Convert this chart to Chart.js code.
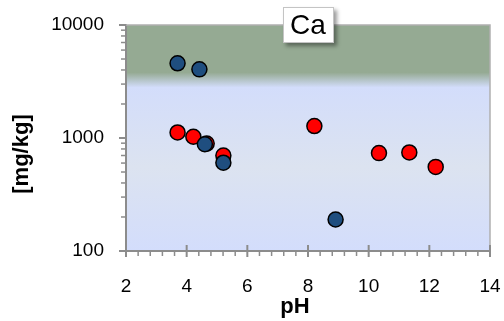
<!DOCTYPE html>
<html>
<head>
<meta charset="utf-8">
<script src="https://cdn.jsdelivr.net/npm/chart.js@4.4.1/dist/chart.umd.min.js"></script>
<style>
html,body{margin:0;padding:0;background:#fff;}
#wrap{width:504px;height:321px;position:relative;}
</style>
</head>
<body>
<div id="wrap"><canvas id="c" width="504" height="321"></canvas></div>
<script>
// ---- data ----
const chartTitle = "Ca";
const xTitle = "pH";
const yTitle = "[mg/kg]";
const xTicks = [2, 4, 6, 8, 10, 12, 14];
const yTicks = [100, 1000, 10000];
const blueX = [3.70, 4.42, 4.60, 5.21, 8.91];
const blueY = [4580, 4050, 880, 605, 190];
const redX = [3.70, 4.22, 4.66, 5.21, 8.21, 10.34, 11.34, 12.21];
const redY = [1120, 1025, 893, 700, 1275, 735, 745, 555];
const bandTop = 3800;   // green zone fully above this value
const bandBottom = 2800; // fades to blue by this value

const FONT = "'Liberation Sans', Arial, sans-serif";
const AXIS = '#8c8c8c';

function pts(xs, ys){ return xs.map((x,i)=>({x:x, y:ys[i]})); }

const bgPlugin = {
  id: 'bg',
  beforeDraw(chart){
    const {ctx, chartArea:a, scales:{y}} = chart;
    const h = a.bottom - a.top;
    const f = v => Math.min(1, Math.max(0, (y.getPixelForValue(v) - a.top) / h));
    const g = ctx.createLinearGradient(0, a.top, 0, a.bottom);
    g.addColorStop(0, '#95aa93');
    g.addColorStop(f(bandTop), '#95aa93');
    g.addColorStop(f(bandBottom), '#d3ddfb');
    g.addColorStop(0.63, '#dce3f0');
    g.addColorStop(1, '#d3ddfc');
    ctx.save();
    ctx.fillStyle = g;
    ctx.fillRect(a.left, a.top, a.right - a.left, a.bottom - a.top);
    ctx.restore();
  },
  beforeDatasetsDraw(chart){
    const {ctx, chartArea:a, scales:{x, y}} = chart;
    ctx.save();
    ctx.strokeStyle = '#b0b0b0';
    ctx.lineWidth = 1.5;
    ctx.beginPath();
    ctx.moveTo(a.left, a.top); ctx.lineTo(a.right, a.top); ctx.lineTo(a.right, a.bottom);
    ctx.stroke();
    ctx.strokeStyle = AXIS;
    const yb = a.bottom;
    for (let i = 0; i < xTicks.length; i++){
      const px = x.getPixelForValue(xTicks[i]);
      ctx.lineWidth = 2;
      ctx.beginPath(); ctx.moveTo(px, yb - 6); ctx.lineTo(px, yb + 6); ctx.stroke();
      if (i < xTicks.length - 1){
        const step = (xTicks[i+1] - xTicks[i]) / 5;
        for (let k = 1; k < 5; k++){
          const mx = x.getPixelForValue(xTicks[i] + k * step);
          ctx.lineWidth = 1.5;
          ctx.beginPath(); ctx.moveTo(mx, yb); ctx.lineTo(mx, yb + 5); ctx.stroke();
        }
      }
    }
    const xl = a.left;
    for (let i = 0; i < yTicks.length; i++){
      const py = y.getPixelForValue(yTicks[i]);
      ctx.lineWidth = 2;
      ctx.beginPath(); ctx.moveTo(xl - 7, py); ctx.lineTo(xl, py); ctx.stroke();
      if (i < yTicks.length - 1){
        for (let k = 2; k < 10; k++){
          const my = y.getPixelForValue(yTicks[i] * k);
          ctx.lineWidth = 1.5;
          ctx.beginPath(); ctx.moveTo(xl - 5, my); ctx.lineTo(xl, my); ctx.stroke();
        }
      }
    }
    ctx.restore();
  },
  afterDraw(chart){
    const {ctx, chartArea:a} = chart;
    ctx.save();
    ctx.fillStyle = '#000';
    ctx.font = 'bold 22px ' + FONT;
    ctx.textAlign = 'center';
    ctx.textBaseline = 'middle';
    ctx.fillText(xTitle, 295, 307);
    ctx.save();
    ctx.translate(22, 154);
    ctx.rotate(-Math.PI / 2);
    ctx.fillText(yTitle, 0, 0);
    ctx.restore();
    const cx = (a.left + a.right) / 2;
    const bw = 51, bh = 36, bx = cx - 25, by = 7;
    ctx.save();
    ctx.shadowColor = 'rgba(0,0,0,0.4)';
    ctx.shadowBlur = 4;
    ctx.shadowOffsetX = 3;
    ctx.shadowOffsetY = 3;
    ctx.fillStyle = '#fff';
    ctx.fillRect(bx, by, bw, bh);
    ctx.restore();
    ctx.strokeStyle = '#c4c4c4';
    ctx.lineWidth = 1;
    ctx.strokeRect(bx + 0.5, by + 0.5, bw - 1, bh - 1);
    ctx.fillStyle = '#000';
    ctx.font = '28px ' + FONT;
    ctx.textAlign = 'center';
    ctx.textBaseline = 'middle';
    ctx.fillText(chartTitle, cx, by + bh / 2 + 1);
    ctx.restore();
  }
};

new Chart(document.getElementById('c'), {
  type: 'scatter',
  data: {
    datasets: [
      { label: 'blue', data: pts(blueX, blueY), backgroundColor: '#1f4e7f', borderColor: '#000', borderWidth: 1.5, pointRadius: 7.5 },
      { label: 'red', data: pts(redX, redY), backgroundColor: '#ff0000', borderColor: '#000', borderWidth: 1.5, pointRadius: 7.5 }
    ]
  },
  options: {
    responsive: false,
    animation: false,
    devicePixelRatio: 1,
    layout: { padding: { top: 25, right: 14, left: 0, bottom: 0 } },
    plugins: { legend: { display: false }, tooltip: { enabled: false } },
    scales: {
      x: {
        type: 'linear', min: 2, max: 14,
        afterBuildTicks: s => { s.ticks = xTicks.map(v => ({value: v})); },
        afterFit: s => { s.height = 70; s.paddingLeft = 0; s.paddingRight = 0; },
        grid: { display: false, drawTicks: false, tickLength: 0 },
        border: { display: true, color: AXIS, width: 2 },
        ticks: { color: '#000', font: { family: FONT, size: 19 }, padding: 24, maxRotation: 0, callback: v => String(v) }
      },
      y: {
        type: 'logarithmic', min: 100, max: 10000,
        afterBuildTicks: s => { s.ticks = yTicks.map(v => ({value: v})); },
        afterFit: s => { s.width = 126; s.paddingTop = 0; s.paddingBottom = 0; },
        grid: { display: false, drawTicks: false, tickLength: 0 },
        border: { display: true, color: AXIS, width: 2 },
        ticks: { color: '#000', font: { family: FONT, size: 19 }, padding: 22, callback: v => String(v) }
      }
    }
  },
  plugins: [bgPlugin]
});
</script>
</body>
</html>
